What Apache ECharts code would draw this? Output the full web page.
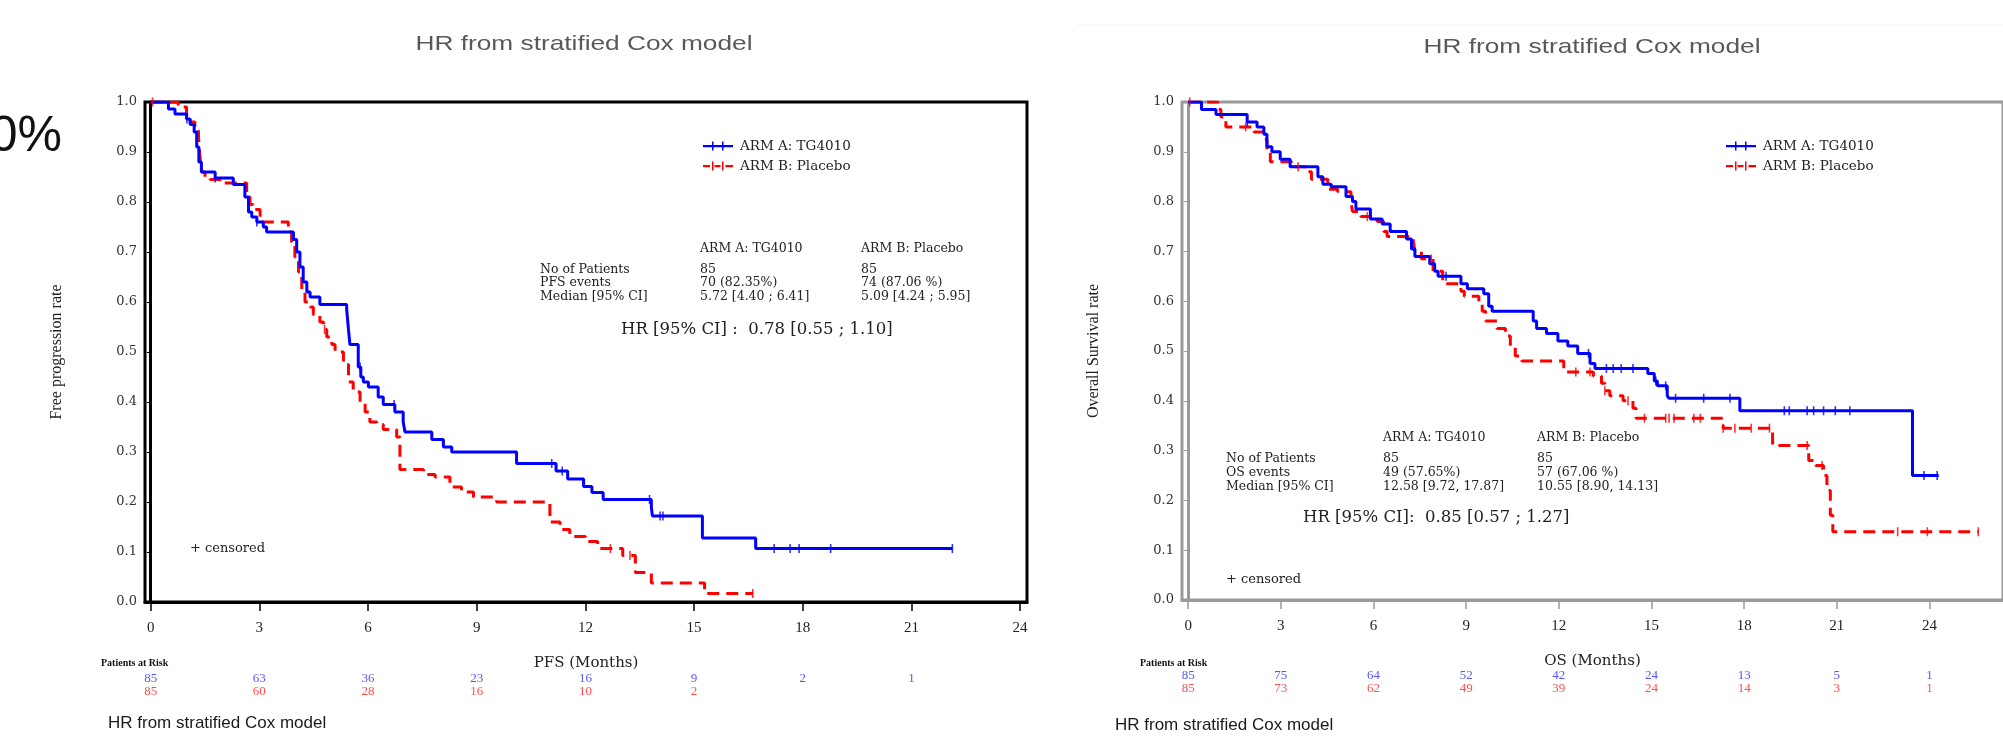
<!DOCTYPE html>
<html lang="en" style="height: 100%">
<head>
  <meta charset="utf-8">
  <title>TG4010 PFS / OS</title>
</head>
<body style="height: 100%; margin: 0; background: #fff">
  <div id="container" style="width: 2003px; height: 741px"></div>
  <script type="text/javascript" src="https://cdn.jsdelivr.net/npm/echarts@6/dist/echarts.min.js"></script>
  <script type="text/javascript">
    // months shown on both x axes
    var monthTicks = [0, 3, 6, 9, 12, 15, 18, 21, 24];

    // Kaplan-Meier steps [month, rate after the drop]
    var pfsArmA = [[0, 1], [0.49, 0.986], [0.67, 0.976], [0.99, 0.966], [1.09, 0.955], [1.20, 0.94], [1.27, 0.91],
      [1.33, 0.88], [1.40, 0.86], [1.78, 0.848], [2.28, 0.835], [2.60, 0.81], [2.70, 0.78], [2.79, 0.77], [2.93, 0.76],
      [3.11, 0.75], [3.20, 0.74], [3.94, 0.725], [4.03, 0.70], [4.12, 0.67], [4.21, 0.64], [4.31, 0.62], [4.40, 0.61],
      [4.67, 0.595], [5.41, 0.585], [5.46, 0.545], [5.50, 0.515], [5.73, 0.47], [5.80, 0.45], [5.87, 0.44], [6.01, 0.43],
      [6.28, 0.41], [6.42, 0.395], [6.74, 0.38], [6.97, 0.36], [7.02, 0.34], [7.76, 0.325], [8.08, 0.31], [8.31, 0.30],
      [10.10, 0.277], [11.19, 0.262], [11.51, 0.246], [11.95, 0.231], [12.18, 0.219], [12.49, 0.205], [13.82, 0.19],
      [13.85, 0.172], [15.23, 0.128], [16.70, 0.107], [22.13, 0.107]];
    var pfsArmB = [[0, 1], [0.76, 0.99], [0.99, 0.975], [1.09, 0.96], [1.22, 0.945], [1.32, 0.93], [1.36, 0.89],
      [1.41, 0.86], [1.50, 0.85], [1.64, 0.845], [1.96, 0.838], [2.65, 0.81], [2.74, 0.795], [2.83, 0.785], [3.02, 0.76],
      [3.80, 0.74], [3.89, 0.72], [3.98, 0.69], [4.08, 0.66], [4.17, 0.62], [4.26, 0.60], [4.40, 0.59], [4.49, 0.575],
      [4.67, 0.56], [4.77, 0.545], [4.86, 0.53], [5.00, 0.515], [5.09, 0.50], [5.32, 0.475], [5.46, 0.44], [5.59, 0.42],
      [5.78, 0.40], [5.92, 0.38], [6.05, 0.36], [6.24, 0.355], [6.42, 0.345], [6.79, 0.33], [6.88, 0.265], [7.53, 0.255],
      [7.85, 0.25], [8.26, 0.23], [8.58, 0.22], [8.91, 0.21], [9.55, 0.20], [11.02, 0.16], [11.30, 0.145], [11.57, 0.131],
      [12.00, 0.121], [12.34, 0.107], [13.03, 0.093], [13.38, 0.059], [13.82, 0.038], [15.29, 0.017], [16.62, 0.017]];
    var pfsCensorA = [1.0, 1.78, 2.93, 5.78, 6.72, 11.07, 11.36, 13.77, 14.06, 14.14, 17.21, 17.65, 17.90, 18.77, 22.13];
    var pfsCensorB = [0.05, 4.8, 12.69, 13.23, 16.62];

    var osArmA = [[0, 1], [0.43, 0.985], [0.90, 0.975], [1.91, 0.96], [2.23, 0.95], [2.45, 0.935], [2.55, 0.91],
      [2.71, 0.90], [2.98, 0.885], [3.30, 0.87], [4.20, 0.85], [4.36, 0.835], [4.63, 0.83], [5.11, 0.81], [5.32, 0.80],
      [5.43, 0.785], [5.90, 0.765], [6.28, 0.755], [6.54, 0.74], [7.07, 0.725], [7.23, 0.705], [7.34, 0.69], [7.82, 0.675],
      [7.98, 0.66], [8.09, 0.65], [8.83, 0.635], [9.04, 0.625], [9.57, 0.615], [9.73, 0.59], [9.84, 0.58], [11.17, 0.56],
      [11.28, 0.545], [11.60, 0.535], [11.97, 0.52], [12.29, 0.51], [12.61, 0.495], [13.01, 0.475], [13.17, 0.465],
      [14.88, 0.455], [15.09, 0.44], [15.19, 0.43], [15.51, 0.41], [15.57, 0.405], [17.86, 0.38], [23.45, 0.25], [24.30, 0.25]];
    var osArmB = [[0, 1], [0.96, 0.985], [1.06, 0.97], [1.22, 0.95], [2.13, 0.94], [2.45, 0.925], [2.55, 0.90],
      [2.66, 0.88], [3.35, 0.87], [3.83, 0.86], [3.99, 0.845], [4.52, 0.825], [4.84, 0.82], [5.27, 0.80], [5.32, 0.78],
      [5.59, 0.77], [6.12, 0.76], [6.33, 0.74], [6.44, 0.73], [7.29, 0.72], [7.34, 0.70], [7.55, 0.685], [7.93, 0.66],
      [8.24, 0.635], [8.83, 0.62], [8.94, 0.61], [9.41, 0.60], [9.52, 0.58], [9.63, 0.56], [10.00, 0.545], [10.27, 0.53],
      [10.43, 0.51], [10.59, 0.49], [10.80, 0.48], [12.16, 0.458], [13.12, 0.45], [13.38, 0.435], [13.49, 0.42],
      [13.65, 0.41], [14.08, 0.40], [14.40, 0.385], [14.50, 0.365], [17.32, 0.345], [18.92, 0.31], [20.09, 0.28],
      [20.31, 0.27], [20.57, 0.25], [20.68, 0.22], [20.79, 0.17], [20.87, 0.137], [25.58, 0.137]];
    var osCensorA = [1.91, 8.35, 12.96, 13.54, 13.76, 14.02, 14.40, 15.14, 15.46, 15.78, 16.69, 17.54, 19.30, 19.46,
      20.04, 20.25, 20.57, 20.95, 21.42, 23.82, 24.25];
    var osCensorB = [0.05, 1.86, 3.56, 5.80, 7.87, 12.55, 13.01, 13.49, 14.24, 14.77, 15.46, 15.57, 15.73, 16.37, 16.58,
      17.32, 17.70, 18.23, 18.82, 20.04, 20.52, 22.97, 23.93, 25.58];

    // patients at risk under each plot
    var pfsRiskA = [85, 63, 36, 23, 16, 9, 2, 1];
    var pfsRiskB = [85, 60, 28, 16, 10, 2];
    var osRiskA = [85, 75, 64, 52, 42, 24, 13, 5, 1];
    var osRiskB = [85, 73, 62, 49, 39, 24, 14, 3, 1];

    var nameA = 'ARM A: TG4010';
    var nameB = 'ARM B: Placebo';
    var blue = '#0000ff';
    var red = '#ff0000';
    var serif = '"DejaVu Serif"';
    var times = '"Liberation Serif"';

    function survAt(steps, t) {
      var s = steps[0][1];
      for (var i = 0; i < steps.length; i++) {
        if (steps[i][0] <= t) s = steps[i][1];
      }
      return s;
    }
    function censorPoints(steps, times) {
      return times.map(function (t) { return [t, survAt(steps, t)]; });
    }
    function riskPoints(counts, row) {
      return counts.map(function (n, i) { return [monthTicks[i], row, n]; });
    }

    var dom = document.getElementById('container');
    var myChart = echarts.init(dom, null, { renderer: 'canvas' });

    function plotX(gridIndex, min, max, color, name) {
      return {
        type: 'value', gridIndex: gridIndex, min: min, max: max,
        axisLine: { lineStyle: { color: color, width: 3 } },
        axisTick: { customValues: monthTicks, length: 9, lineStyle: { color: color, width: 1.5 } },
        axisLabel: { customValues: monthTicks, margin: 19, color: '#222', fontFamily: times, fontSize: 15 },
        splitLine: { show: false },
        name: name, nameLocation: 'middle', nameGap: 54,
        nameTextStyle: { color: '#222', fontFamily: serif, fontSize: 15 }
      };
    }
    function plotY(gridIndex, color, name) {
      return {
        type: 'value', gridIndex: gridIndex, min: 0, max: 1, interval: 0.1,
        axisLine: { show: true, lineStyle: { color: color, width: 3 } },
        axisTick: { show: true, length: 4, lineStyle: { color: color, width: 1 } },
        axisLabel: { margin: 8, color: '#333', fontFamily: serif, fontSize: 13,
          formatter: function (v) { return v.toFixed(1); } },
        splitLine: { show: false },
        name: name, nameLocation: 'middle', nameRotate: 90, nameGap: 80,
        nameTextStyle: { color: '#222', fontFamily: times, fontSize: 16 }
      };
    }
    function hiddenX(gridIndex, min, max) {
      return { type: 'value', gridIndex: gridIndex, min: min, max: max, show: false };
    }
    function hiddenY(gridIndex) {
      return { type: 'category', gridIndex: gridIndex, data: [0, 1], inverse: true, show: false };
    }
    function kmLine(name, steps, color, dashed, xi) {
      return {
        type: 'line', name: name, step: 'end', data: steps, xAxisIndex: xi, yAxisIndex: xi,
        showSymbol: false, symbol: 'none', silent: true,
        lineStyle: { color: color, width: 3, type: dashed ? [12, 7] : 'solid' },
        itemStyle: { color: color }, z: dashed ? 3 : 4
      };
    }
    function censorMarks(name, steps, times, color, xi) {
      return {
        type: 'scatter', name: name, data: censorPoints(steps, times), xAxisIndex: xi, yAxisIndex: xi,
        symbol: 'rect', symbolSize: [1.6, 9], silent: true, itemStyle: { color: color }, z: 5
      };
    }
    function riskRow(counts, row, color, xi) {
      return {
        type: 'scatter', data: riskPoints(counts, row), xAxisIndex: xi, yAxisIndex: xi,
        symbolSize: 0.1, silent: true, itemStyle: { color: 'rgba(0,0,0,0)' },
        label: { show: true, position: 'inside', color: color, fontFamily: times, fontSize: 13,
          formatter: function (p) { return p.value[2]; } }
      };
    }

    var iconA = 'path://M0,3.4h30v2.4h-30z M9,0h1.5v9h-1.5z M19,0h1.5v9h-1.5z';
    var iconB = 'path://M0,3.4h7v2.4h-7z M11.5,3.4h6v2.4h-6z M22.5,3.4h7.5v2.4h-7.5z M9,0h1.5v9h-1.5z M19,0h1.5v9h-1.5z';
    function legendAt(left) {
      return {
        left: left, top: 139, orient: 'vertical', itemWidth: 30, itemHeight: 9, itemGap: 6, padding: 0,
        selectedMode: false,
        textStyle: { color: '#222', fontFamily: serif, fontSize: 13.5, padding: [0, 0, 0, 2] },
        data: [
          { name: nameA, icon: iconA, itemStyle: { color: blue, borderWidth: 0 } },
          { name: nameB, icon: iconB, itemStyle: { color: red, borderWidth: 0 } }
        ]
      };
    }

    function txt(x, y, text, font, fill, align, extra) {
      var el = {
        type: 'text', x: x, y: y, silent: true,
        style: { text: text, font: font, fill: fill, align: align || 'left', verticalAlign: 'middle' }
      };
      if (extra) { for (var k in extra) el[k] = extra[k]; }
      return el;
    }
    function block(x, y, text) {
      return {
        type: 'text', x: x, y: y, silent: true,
        style: { text: text, font: '12.5px ' + serif, fill: '#222', align: 'left', verticalAlign: 'top', lineHeight: 13.8 }
      };
    }

    var statFont = '12.5px ' + serif;
    var graphics = [
      txt(62, 137, '0%', '50px "Liberation Sans"', '#111', 'right'),
      { type: 'line', silent: true, shape: { x1: 1078, y1: 25, x2: 2003, y2: 25 }, style: { stroke: '#f0f0f0', lineWidth: 1 } },
      txt(584, 44, 'HR from stratified Cox model', '21px "Liberation Sans"', '#595959', 'center', { scaleX: 1.25 }),
      txt(1592, 47, 'HR from stratified Cox model', '21px "Liberation Sans"', '#595959', 'center', { scaleX: 1.25 }),
      txt(108, 723, 'HR from stratified Cox model', '17px "Liberation Sans"', '#1a1a1a'),
      txt(1115, 725, 'HR from stratified Cox model', '17px "Liberation Sans"', '#1a1a1a'),

      // PFS summary
      txt(700, 249, nameA, statFont, '#222'),
      txt(861, 249, nameB, statFont, '#222'),
      block(540, 262.5, 'No of Patients\nPFS events\nMedian [95% CI]'),
      block(700, 262.5, '85\n70 (82.35%)\n5.72 [4.40 ; 6.41]'),
      block(861, 262.5, '85\n74 (87.06 %)\n5.09 [4.24 ; 5.95]'),
      txt(621, 330, 'HR [95% CI] :  0.78 [0.55 ; 1.10]', '16.5px ' + serif, '#222'),
      txt(190, 549, '+ censored', '13px ' + serif, '#222'),

      // OS summary
      txt(1383, 438, nameA, statFont, '#222'),
      txt(1537, 438, nameB, statFont, '#222'),
      block(1226, 452, 'No of Patients\nOS events\nMedian [95% CI]'),
      block(1383, 452, '85\n49 (57.65%)\n12.58 [9.72, 17.87]'),
      block(1537, 452, '85\n57 (67.06 %)\n10.55 [8.90, 14.13]'),
      txt(1303, 518, 'HR [95% CI]:  0.85 [0.57 ; 1.27]', '16.5px ' + serif, '#222'),
      txt(1226, 580, '+ censored', '13px ' + serif, '#222'),

      txt(101, 663, 'Patients at Risk', 'bold 10px ' + times, '#111'),
      txt(1140, 663, 'Patients at Risk', 'bold 10px ' + times, '#111')
    ];

    var pfsMin = -0.157, pfsMax = 24.19;
    var osMin = -0.2, osMax = 26.38;

    var option = {
      animation: false,
      backgroundColor: '#fff',
      grid: [
        { left: 145, top: 102, width: 882, height: 500, show: true, borderColor: '#000', borderWidth: 3, backgroundColor: 'transparent' },
        { left: 1182, top: 102, width: 833, height: 498, show: true, borderColor: '#9a9a9a', borderWidth: 3, backgroundColor: 'transparent' },
        { left: 145, top: 672.5, width: 882, height: 26 },
        { left: 1182, top: 669.5, width: 833, height: 26 }
      ],
      xAxis: [
        plotX(0, pfsMin, pfsMax, '#000', 'PFS (Months)'),
        plotX(1, osMin, osMax, '#9a9a9a', 'OS (Months)'),
        hiddenX(2, pfsMin, pfsMax),
        hiddenX(3, osMin, osMax)
      ],
      yAxis: [
        plotY(0, '#000', 'Free progression rate'),
        plotY(1, '#9a9a9a', 'Overall Survival rate'),
        hiddenY(2),
        hiddenY(3)
      ],
      legend: [legendAt(703), legendAt(1726)],
      series: [
        kmLine(nameB, pfsArmB, red, true, 0),
        kmLine(nameA, pfsArmA, blue, false, 0),
        censorMarks(nameB, pfsArmB, pfsCensorB, red, 0),
        censorMarks(nameA, pfsArmA, pfsCensorA, blue, 0),
        kmLine(nameB, osArmB, red, true, 1),
        kmLine(nameA, osArmA, blue, false, 1),
        censorMarks(nameB, osArmB, osCensorB, red, 1),
        censorMarks(nameA, osArmA, osCensorA, blue, 1),
        riskRow(pfsRiskA, 0, '#2b2bff', 2),
        riskRow(pfsRiskB, 1, '#ff2020', 2),
        riskRow(osRiskA, 0, '#2b2bff', 3),
        riskRow(osRiskB, 1, '#ff2020', 3)
      ],
      graphic: graphics
    };

    myChart.setOption(option);
    window.addEventListener('resize', myChart.resize);
  </script>
</body>
</html>
